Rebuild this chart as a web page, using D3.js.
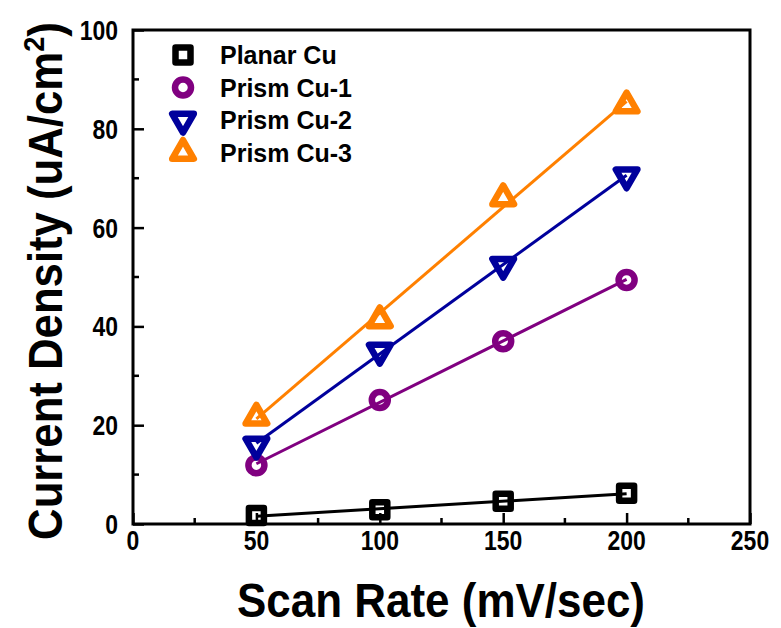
<!DOCTYPE html>
<html>
<head>
<meta charset="utf-8">
<script src="https://cdn.jsdelivr.net/npm/d3@7/dist/d3.min.js"></script>
<style>
  html, body { margin: 0; padding: 0; background: #fff; }
  svg { display: block; }
  text { font-family: "Liberation Sans", Arial, sans-serif; font-weight: bold; fill: #000; }
</style>
</head>
<body>
<svg id="chart" width="781" height="628"></svg>
<script>
// Scan rates (mV/sec) and measured current densities (uA/cm2)
const scanRates = [50, 100, 150, 200];
const planarCu = [1.7, 2.9, 4.6, 6.2];
const prismCu1 = [11.9, 25.1, 37.0, 49.4];
const prismCu2 = [16.0, 35.0, 52.4, 70.5];
const prismCu3 = [21.6, 41.3, 66.0, 84.8];

const seriesNames = ["Planar Cu", "Prism Cu-1", "Prism Cu-2", "Prism Cu-3"];
const seriesColors = ["#000000", "#800080", "#00009c", "#ff8000"];
const seriesShapes = ["square", "circle", "triangleDown", "triangleUp"];
const seriesValues = [planarCu, prismCu1, prismCu2, prismCu3];

const xTicks = [0, 50, 100, 150, 200, 250];
const xMinorTicks = [25, 75, 125, 175, 225];
const yTicks = [0, 20, 40, 60, 80, 100];
const yMinorTicks = [10, 30, 50, 70, 90];

const svg = d3.select("#chart");
const plotLeft = 133, plotRight = 750, plotTop = 30, plotBottom = 524;

const x = d3.scaleLinear().domain([0, 250]).range([plotLeft, plotRight]);
const y = d3.scaleLinear().domain([0, 100]).range([plotBottom, plotTop]);

// Axes: ticks point into the plot, labels set separately
const xAxis = g => g.attr("transform", `translate(0,${plotBottom})`)
  .call(d3.axisBottom(x).tickValues(xTicks).tickSize(-11).tickFormat(""))
  .call(g => g.selectAll(".minor").data(xMinorTicks).join("line")
      .attr("class", "minor").attr("x1", d => x(d)).attr("x2", d => x(d))
      .attr("y1", 0).attr("y2", -6).attr("stroke", "#000").attr("stroke-width", 2.5));
const yAxis = g => g.attr("transform", `translate(${plotLeft},0)`)
  .call(d3.axisLeft(y).tickValues(yTicks).tickSize(-11).tickFormat(""))
  .call(g => g.selectAll(".minor").data(yMinorTicks).join("line")
      .attr("class", "minor").attr("y1", d => y(d)).attr("y2", d => y(d))
      .attr("x1", 0).attr("x2", 6).attr("stroke", "#000").attr("stroke-width", 2.5));

const gx = svg.append("g").call(xAxis);
const gy = svg.append("g").call(yAxis);
[gx, gy].forEach(g => {
  g.select(".domain").remove();
  g.selectAll(".tick line").attr("stroke", "#000").attr("stroke-width", 2.5);
});

// Plot frame
svg.append("rect")
  .attr("x", plotLeft).attr("y", plotTop)
  .attr("width", plotRight - plotLeft).attr("height", plotBottom - plotTop)
  .attr("fill", "none").attr("stroke", "#000").attr("stroke-width", 3);

// Tick labels (condensed bold digits)
const condense = 0.82;
svg.append("g").selectAll("text").data(xTicks).join("text")
  .attr("transform", d => `translate(${x(d)},${plotBottom + 26}) scale(${condense},1)`)
  .attr("text-anchor", "middle")
  .style("font-size", "28px")
  .text(d => d);
svg.append("g").selectAll("text").data(yTicks).join("text")
  .attr("transform", d => `translate(${plotLeft - 15},${y(d) + 10}) scale(${condense},1)`)
  .attr("text-anchor", "end")
  .style("font-size", "28px")
  .text(d => d);

// Axis titles
svg.append("text")
  .attr("x", (237 + 645) / 2).attr("y", 617)
  .attr("text-anchor", "middle")
  .attr("textLength", 408).attr("lengthAdjust", "spacingAndGlyphs")
  .style("font-size", "48px")
  .text("Scan Rate (mV/sec)");

const yTitleG = svg.append("g");
const yTitle = yTitleG.append("text")
  .attr("text-anchor", "middle")
  .style("font-size", "48px");
yTitle.append("tspan").text("Current Density (uA/cm");
yTitle.append("tspan").attr("dy", -18).style("font-size", "30px").text("2");
yTitle.append("tspan").attr("dy", 18).text(")");
// Fit the rotated title between y = 540 and y = 22
const titleLen = yTitle.node().getComputedTextLength();
const titleScale = (540 - 22) / titleLen;
yTitleG.attr("transform", `translate(62,${(540 + 22) / 2}) rotate(-90) scale(${titleScale},1)`);

// Marker shapes (centred on the data point)
function trianglePath(r, startAngle) {
  const p = d3.range(3).map(i => {
    const a = startAngle + i * 2 * Math.PI / 3;
    return [r * Math.cos(a), r * Math.sin(a)];
  });
  return "M" + p.map(q => q.join(",")).join("L") + "Z";
}
function markerPath(shape) {
  switch (shape) {
    case "square": { const h = 7.5; return `M${-h},${-h}H${h}V${h}H${-h}Z`; }
    case "triangleUp": return trianglePath(12.5, -Math.PI / 2);
    case "triangleDown": return trianglePath(12.5, Math.PI / 2);
  }
}

function drawMarker(g, shape, color, cx, cy) {
  if (shape === "circle") {
    g.append("circle").attr("cx", cx).attr("cy", cy).attr("r", 8)
      .attr("fill", "none").attr("stroke", color).attr("stroke-width", 6.5);
  } else {
    g.append("path").attr("d", markerPath(shape))
      .attr("transform", `translate(${cx},${cy})`)
      .attr("fill", "none").attr("stroke", color)
      .attr("stroke-width", 6.5).attr("stroke-linejoin", "round");
  }
}

// Least-squares straight line through each series
function linearFit(xs, ys) {
  const mx = d3.mean(xs), my = d3.mean(ys);
  const num = d3.sum(xs, (v, i) => (v - mx) * (ys[i] - my));
  const den = d3.sum(xs, v => (v - mx) ** 2);
  const slope = num / den;
  return v => my + slope * (v - mx);
}

const plot = svg.append("g");
seriesValues.forEach((vals, si) => {
  const fit = linearFit(scanRates, vals);
  const ends = [scanRates[0], scanRates[scanRates.length - 1]];
  plot.append("path")
    .attr("d", d3.line().x(d => x(d)).y(d => y(fit(d)))(ends))
    .attr("fill", "none").attr("stroke", seriesColors[si]).attr("stroke-width", 3);
});
seriesValues.forEach((vals, si) => {
  const g = plot.append("g");
  vals.forEach((v, i) => drawMarker(g, seriesShapes[si], seriesColors[si], x(scanRates[i]), y(v)));
});

// Legend
const legend = svg.append("g");
seriesNames.forEach((name, i) => {
  const ly = 55 + i * 32.5;
  drawMarker(legend, seriesShapes[i], seriesColors[i], 183, ly);
  legend.append("text").attr("x", 220).attr("y", ly + 9)
    .style("font-size", "25px").text(name);
});
</script>
</body>
</html>
